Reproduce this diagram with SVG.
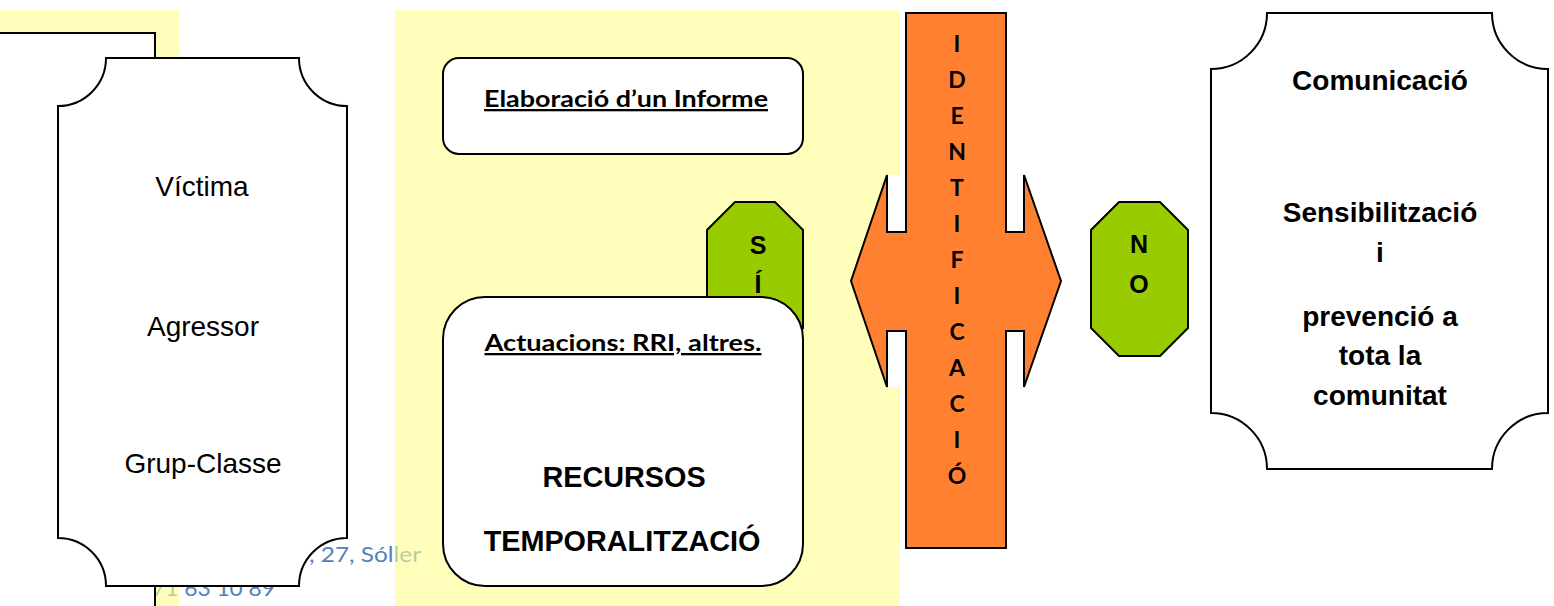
<svg xmlns="http://www.w3.org/2000/svg" width="1554" height="606" viewBox="0 0 1554 606">
  <style>
    .line { stroke:#000; stroke-width:2; }
    .white { fill:#fff; }
    .yellow { fill:#FFFF8E; fill-opacity:0.6; }
    .green { fill:#99CC00; stroke:#000; stroke-width:2; }
    .orange { fill:#FF8030; stroke:#000; stroke-width:2; stroke-linejoin:miter; }
    .foot { font-family:Lato, "Liberation Sans", sans-serif; font-size:21px; fill:#4F81BD; }
    .arial { font-family:"Liberation Sans", Arial, sans-serif; fill:#000; text-anchor:middle; }
    .reg28 { font-size:28px; }
    .bold { font-weight:bold; }
    .cal { font-family:Lato, "Liberation Sans", sans-serif; font-weight:bold; fill:#000; text-anchor:middle; }
  </style>

  <!-- background footer text (partly hidden) -->
  <g id="footer">
    <text class="foot" x="421" y="562" text-anchor="end" textLength="112" lengthAdjust="spacingAndGlyphs">, 27, Sóller</text>
    <text class="foot" x="152" y="596" textLength="123" lengthAdjust="spacingAndGlyphs">71 63 10 89</text>
  </g>

  <!-- yellow panels -->
  <g id="panels">
    <rect class="yellow" x="0" y="10" width="179" height="596"/>
    <rect class="yellow" x="395" y="10" width="505" height="596"/>
  </g>

  <!-- left white bordered frame -->
  <g id="frame">
    <rect class="white line" x="-4" y="33" width="159" height="580"/>
  </g>

  <!-- left plaque -->
  <g id="plaque-left">
    <path class="white line" d="M106,58 H299 A48,48 0 0 0 347,106 V538 A48,48 0 0 0 299,586 H106 A48,48 0 0 0 58,538 V106 A48,48 0 0 0 106,58 Z"/>
    <text class="arial reg28" x="202" y="196">Víctima</text>
    <text class="arial reg28" x="203" y="336">Agressor</text>
    <text class="arial reg28" x="203" y="473">Grup-Classe</text>
  </g>

  <!-- informe box -->
  <g id="informe">
    <rect class="white line" x="443" y="58" width="360" height="96" rx="16" ry="16"/>
    <text class="cal" x="626" y="107" font-size="23" text-decoration="underline" textLength="284" lengthAdjust="spacingAndGlyphs">Elaboració d’un Informe</text>
  </g>

  <!-- SÍ octagon -->
  <g id="si">
    <polygon class="green" points="735,202 775,202 803,230 803,328 775,356 735,356 707,328 707,230"/>
    <text class="arial bold" x="758" y="254" font-size="25">S</text>
    <text class="arial bold" x="758" y="293" font-size="25">Í</text>
  </g>

  <!-- actuacions box -->
  <g id="actuacions">
    <rect class="white line" x="443" y="297" width="360" height="289" rx="42" ry="42"/>
    <text class="cal" x="623" y="351" font-size="23" text-decoration="underline" textLength="277" lengthAdjust="spacingAndGlyphs">Actuacions: RRI, altres.</text>
    <text class="arial bold" x="624" y="487" font-size="28.8">RECURSOS</text>
    <text class="arial bold" x="622" y="551" font-size="28.8">TEMPORALITZACIÓ</text>
  </g>

  <!-- identificació double arrow -->
  <g id="identificacio">
    <rect class="white" x="887" y="175" width="19" height="57"/>
    <rect class="white" x="887" y="331" width="19" height="56"/>
    <polygon class="orange" points="906,13 1006,13 1006,232 1024,232 1024,175 1061,281 1024,387 1024,331 1006,331 1006,548 906,548 906,331 887,331 887,387 851,281 887,175 887,232 906,232"/>
    <g class="cal" font-size="23">
      <text x="957" y="52">I</text>
      <text x="957" y="88">D</text>
      <text x="957" y="124">E</text>
      <text x="957" y="160">N</text>
      <text x="957" y="196">T</text>
      <text x="957" y="232">I</text>
      <text x="957" y="268">F</text>
      <text x="957" y="304">I</text>
      <text x="957" y="340">C</text>
      <text x="957" y="376">A</text>
      <text x="957" y="412">C</text>
      <text x="957" y="448">I</text>
      <text x="957" y="484">Ó</text>
    </g>
  </g>

  <!-- NO octagon -->
  <g id="no">
    <polygon class="green" points="1119,202 1160,202 1188,230 1188,328 1160,356 1119,356 1091,328 1091,230"/>
    <text class="arial bold" x="1139" y="253" font-size="25">N</text>
    <text class="arial bold" x="1139" y="293" font-size="25">O</text>
  </g>

  <!-- right plaque -->
  <g id="plaque-right">
    <path class="white line" d="M1267,13 H1492 A56,56 0 0 0 1548,69 V413 A56,56 0 0 0 1492,469 H1267 A56,56 0 0 0 1211,413 V69 A56,56 0 0 0 1267,13 Z"/>
    <text class="arial bold" x="1380" y="90" font-size="28">Comunicació</text>
    <text class="arial bold" x="1380" y="222" font-size="28">Sensibilització</text>
    <text class="arial bold" x="1380" y="262" font-size="28">i</text>
    <text class="arial bold" x="1380" y="326" font-size="28">prevenció a</text>
    <text class="arial bold" x="1380" y="365" font-size="28">tota la</text>
    <text class="arial bold" x="1380" y="405" font-size="28">comunitat</text>
  </g>
</svg>
